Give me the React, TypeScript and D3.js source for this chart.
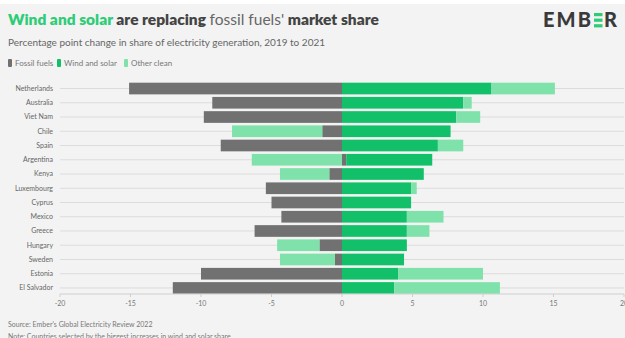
import React from "react";
import * as d3 from "d3";

const countries = ["Netherlands","Australia","Viet Nam","Chile","Spain","Argentina","Kenya","Luxembourg","Cyprus","Mexico","Greece","Hungary","Sweden","Estonia","El Salvador"];
const fossilFuels = [-15.1, -9.2, -9.8, -1.4, -8.6, 0.3, -0.9, -5.4, -5.0, -4.3, -6.2, -1.6, -0.5, -10.0, -12.0];
const windSolar = [10.6, 8.6, 8.1, 7.7, 6.8, 6.1, 5.8, 4.9, 4.9, 4.6, 4.6, 4.6, 4.4, 4.0, 3.7];
const otherClean = [4.5, 0.6, 1.7, -6.4, 1.8, -6.4, -3.5, 0.4, 0.0, 2.6, 1.6, -3.0, -3.9, 6.0, 7.5];
const xTicks = [-20, -15, -10, -5, 0, 5, 10, 15, 20];
const seriesKeys = ["Fossil fuels", "Wind and solar", "Other clean"];
const seriesColors = ["#717171", "#12c06a", "#80e2ab"];

const FONT = "Lato, 'Open Sans', sans-serif";

export default function App() {
  const W = 625, H = 338;
  const x = d3.scaleLinear().domain([-20, 20]).range([60, 624]);
  const y = d3.scaleBand<string>().domain(countries).range([81.4, 295.1]).paddingInner(0.18).paddingOuter(0.09);
  const rows = countries.map((c, i) => ({
    country: c,
    "Fossil fuels": fossilFuels[i],
    "Wind and solar": windSolar[i],
    "Other clean": otherClean[i],
  }));
  const stack = d3.stack<any>().keys(seriesKeys).offset(d3.stackOffsetDiverging);
  const series = stack(rows);
  const axisY = 294;

  return (
    <svg width={W} height={H} style={{ position: "absolute", left: 0, top: 0, display: "block" }} fontFamily={FONT}>
      <rect x={0} y={0} width={W} height={H} fill="#ffffff" />
      <rect x={0} y={4} width={W} height={H - 4} fill="#f3f3f3" />
      <text x={8} y={25} fontSize={15.5} fontWeight={800} fill="#444">
        <tspan fill="#2fcc78">Wind and solar</tspan>
        <tspan> are replacing </tspan>
        <tspan fontWeight={400} fill="#666">fossil fuels'</tspan>
        <tspan> market share</tspan>
      </text>
      <text x={8} y={46} fontSize={10} fill="#666">Percentage point change in share of electricity generation, 2019 to 2021</text>
      {seriesKeys.map((k, i) => {
        const offs = [8, 57, 124];
        return (
          <g key={k} transform={`translate(${offs[i]},63)`}>
            <rect x={0} y={-4} width={4} height={8} rx={1} fill={seriesColors[i]} />
            <text x={7} y={3} fontSize={8} fill="#777">{k}</text>
          </g>
        );
      })}
      <g transform="translate(543,27)">
        <text x={0} y={0} fontSize={20} fontWeight={900} fill="#3a3a3a" textLength={48} lengthAdjust="spacing">EMB</text>
        {[0, 1, 2].map((j) => (
          <rect key={j} x={51} y={-14} width={8.5} height={3.2} fill="#2fcc78" />
        )).map((el, j) => React.cloneElement(el, { y: -14 + j * 5.6 }))}
        <text x={61} y={0} fontSize={20} fontWeight={900} fill="#3a3a3a">R</text>
      </g>
      {countries.map((c) => {
        const cy = (y(c) as number) + y.bandwidth() / 2;
        return (
          <g key={c}>
            <line x1={60} x2={624} y1={cy} y2={cy} stroke="#dcdcdc" strokeWidth={1} />
            <text x={53} y={cy} dy="0.35em" fontSize={7} fill="#666" textAnchor="end">{c}</text>
          </g>
        );
      })}
      {series.map((s, si) => (
        <g key={s.key} fill={seriesColors[si]}>
          {s.map((d: any, j: number) => {
            const x0 = x(Math.min(d[0], d[1]));
            const x1 = x(Math.max(d[0], d[1]));
            return (
              <rect key={j} x={x0} y={y(d.data.country)} width={Math.max(0, x1 - x0)} height={y.bandwidth()} />
            );
          })}
        </g>
      ))}
      <line x1={60} x2={624} y1={axisY} y2={axisY} stroke="#cfcfcf" strokeWidth={1} />
      {xTicks.map((t) => (
        <g key={t} transform={`translate(${x(t)},${axisY})`}>
          <line y1={0} y2={3} stroke="#cfcfcf" />
          <text y={12} fontSize={7} fill="#777" textAnchor="middle">{t}</text>
        </g>
      ))}
      <text x={8} y={327} fontSize={7} fill="#777">Source: Ember's Global Electricity Review 2022</text>
      <text x={8} y={338.5} fontSize={7} fill="#777">Note: Countries selected by the biggest increases in wind and solar share</text>
    </svg>
  );
}
